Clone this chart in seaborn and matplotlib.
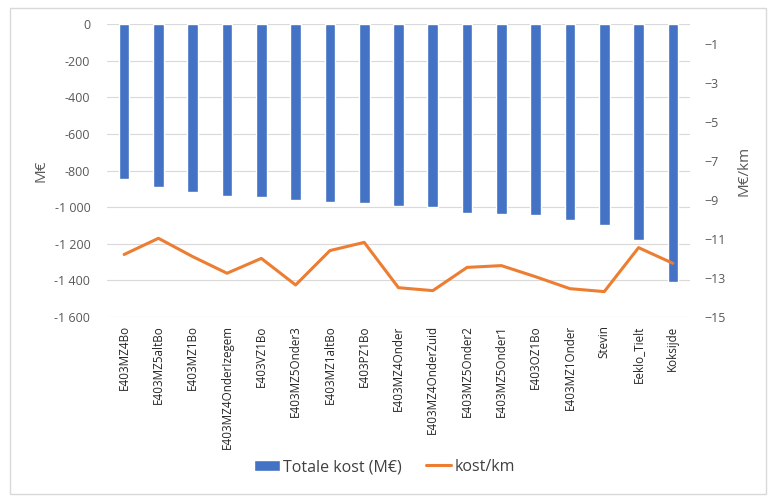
import numpy as np
import pandas as pd
import matplotlib
matplotlib.use("Agg")
import matplotlib.pyplot as plt
import seaborn as sns
from matplotlib.ticker import FuncFormatter

# data
projects = ['E403MZ4Bo', 'E403MZ5altBo', 'E403MZ1Bo', 'E403MZ4OnderIzegem', 'E403VZ1Bo',
            'E403MZ5Onder3', 'E403MZ1altBo', 'E403PZ1Bo', 'E403MZ4Onder', 'E403MZ4OnderZuid',
            'E403MZ5Onder2', 'E403MZ5Onder1', 'E403OZ1Bo', 'E403MZ1Onder', 'Stevin',
            'Eeklo_Tielt', 'Koksijde']
totale_kost = [-846, -892, -919, -937, -943, -963, -972, -979, -995, -999,
               -1032, -1036, -1041, -1069, -1099, -1181, -1407]
kost_per_km = [-11.8, -10.97, -11.91, -12.76, -12.0, -13.36, -11.6, -11.18, -13.5, -13.65,
               -12.46, -12.37, -12.94, -13.55, -13.7, -11.45, -12.25]

df = pd.DataFrame({'project': projects, 'totaal': totale_kost, 'perkm': kost_per_km})

sns.set_style("white")
plt.rcParams['font.family'] = ['Open Sans', 'DejaVu Sans']

grey = '#595959'
fig = plt.figure(figsize=(7.69, 4.96), dpi=100)
ax = fig.add_axes([107 / 769, 1 - 317 / 496, (690 - 107) / 769, (317 - 24) / 496])

sns.barplot(data=df, x='project', y='totaal', color='#4472C4', width=0.31,
            saturation=1, ax=ax, label='Totale kost (M€)', zorder=3)
ax.set_ylim(-1600, 0)
ax.set_yticks(np.arange(-1600, 1, 200))
ax.yaxis.set_major_formatter(FuncFormatter(lambda v, p: f"{int(v):,}".replace(',', ' ')))
ax.grid(axis='y', color='#D9D9D9', linewidth=0.8, zorder=0)
ax.set_axisbelow(True)
ax.set_xlabel('')
ax.set_ylabel('M€', fontsize=11, color=grey, labelpad=4)
ax.tick_params(axis='x', rotation=90, labelsize=8.4, colors='#262626', length=0, pad=6)
ax.tick_params(axis='y', labelsize=9, colors=grey, length=0, pad=12)
ax.set_xlim(-0.5, len(projects) - 0.5)
for s in ax.spines.values():
    s.set_visible(False)

ax2 = ax.twinx()
sns.lineplot(data=df, x='project', y='perkm', color='#ED7D31', linewidth=2.2,
             ax=ax2, label='kost/km', zorder=4)
ax2.set_ylim(-15, 0)
ax2.set_yticks(np.arange(-15, 0, 2))
ax2.set_ylabel('M€/km', fontsize=11, color=grey, labelpad=8)
ax2.tick_params(axis='y', labelsize=9, colors=grey, length=0, pad=10)
ax2.set_xlim(-0.5, len(projects) - 0.5)
for s in ax2.spines.values():
    s.set_visible(False)

# combined legend at the bottom
h1, l1 = ax.get_legend_handles_labels()
h2, l2 = ax2.get_legend_handles_labels()
if ax.get_legend():
    ax.get_legend().remove()
if ax2.get_legend():
    ax2.get_legend().remove()
fig.legend(h1 + h2, l1 + l2, loc='center', bbox_to_anchor=(0.5, 1 - 467 / 496), ncol=2,
           frameon=False, fontsize=11.5, handlelength=1.6, handletextpad=0.2, columnspacing=1.5,
           labelcolor='#404040')

# outer chart border
fig.patches.append(plt.Rectangle((10 / 769, 2 / 496), 756 / 769, 486 / 496, transform=fig.transFigure,
                                 fill=False, edgecolor='#D9D9D9', linewidth=1))

fig.savefig('out.png', dpi=100)
